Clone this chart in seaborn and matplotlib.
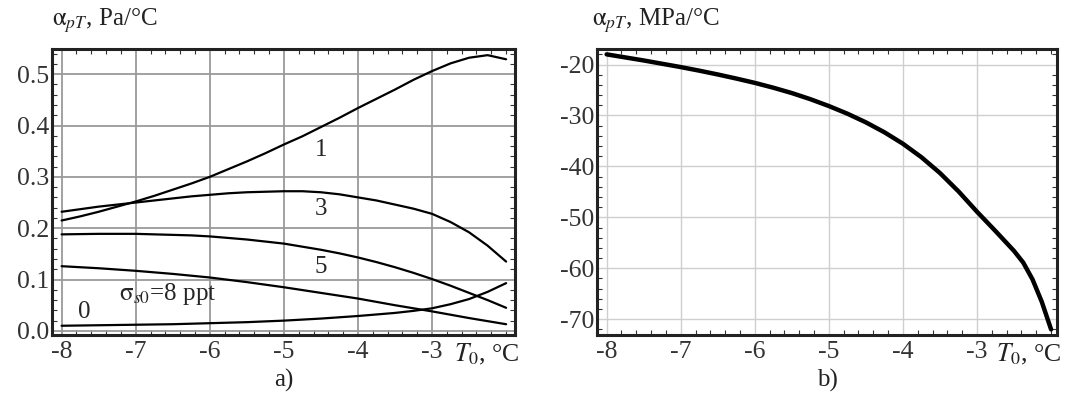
import matplotlib
matplotlib.use("Agg")
import matplotlib.pyplot as plt
import seaborn as sns
from matplotlib.ticker import MultipleLocator, AutoMinorLocator, FormatStrFormatter

# temperature grid (deg C), step 0.25 from -8 to -2
t0 = [-8.0, -7.75, -7.5, -7.25, -7.0, -6.75, -6.5, -6.25, -6.0, -5.75, -5.5, -5.25, -5.0,
      -4.75, -4.5, -4.25, -4.0, -3.75, -3.5, -3.25, -3.0, -2.75, -2.5, -2.25, -2.0]

# panel a), alpha_pT in Pa/degC for several salinities (ppt)
a_s1 = [0.215, 0.223, 0.232, 0.242, 0.252, 0.263, 0.275, 0.287, 0.300, 0.315, 0.330, 0.346, 0.363,
        0.379, 0.397, 0.415, 0.434, 0.452, 0.470, 0.489, 0.506, 0.521, 0.532, 0.537, 0.529]
a_s3 = [0.232, 0.237, 0.242, 0.246, 0.250, 0.254, 0.258, 0.262, 0.265, 0.268, 0.270, 0.271, 0.272,
        0.272, 0.270, 0.266, 0.260, 0.254, 0.246, 0.238, 0.228, 0.212, 0.192, 0.166, 0.135]
a_s5 = [0.188, 0.1885, 0.189, 0.189, 0.189, 0.188, 0.187, 0.186, 0.184, 0.181, 0.178, 0.174, 0.170,
        0.164, 0.158, 0.151, 0.143, 0.134, 0.124, 0.113, 0.101, 0.088, 0.074, 0.060, 0.045]
a_s8 = [0.126, 0.124, 0.122, 0.1195, 0.117, 0.114, 0.111, 0.1075, 0.104, 0.0995, 0.095, 0.090, 0.085,
        0.0795, 0.074, 0.0685, 0.063, 0.0565, 0.050, 0.044, 0.038, 0.0315, 0.025, 0.019, 0.013]
a_s0 = [0.010, 0.0105, 0.011, 0.0115, 0.012, 0.0125, 0.013, 0.014, 0.015, 0.016, 0.017, 0.0185, 0.020,
        0.022, 0.024, 0.0265, 0.029, 0.032, 0.035, 0.039, 0.044, 0.052, 0.062, 0.076, 0.093]

# panel b), alpha_pT in MPa/degC
t0_b = [-8.0, -7.75, -7.5, -7.25, -7.0, -6.75, -6.5, -6.25, -6.0, -5.75, -5.5, -5.25, -5.0,
        -4.75, -4.5, -4.25, -4.0, -3.75, -3.5, -3.25, -3.0, -2.75, -2.5, -2.375, -2.25, -2.125, -2.0]
b_vals = [-18.0, -18.6, -19.2, -19.85, -20.5, -21.2, -21.95, -22.75, -23.6, -24.55, -25.6, -26.8, -28.15,
          -29.65, -31.35, -33.3, -35.55, -38.2, -41.3, -44.9, -48.9, -52.7, -56.6, -58.9, -62.2, -66.6, -72.0]

sns.set_theme(style="ticks")
plt.rcParams["font.family"] = ["Liberation Serif", "DejaVu Serif"]
plt.rcParams["mathtext.fontset"] = "stix"
plt.rcParams["axes.unicode_minus"] = False

fig = plt.figure(figsize=(10.69, 3.98), dpi=100)
ax1 = fig.add_axes([52 / 1069, 63 / 398, 463 / 1069, 286 / 398])
ax2 = fig.add_axes([597 / 1069, 63 / 398, 460 / 1069, 286 / 398])

for series in [a_s1, a_s3, a_s5, a_s8, a_s0]:
    sns.lineplot(x=t0, y=series, ax=ax1, color="black", linewidth=1.6)
sns.lineplot(x=t0_b, y=b_vals, ax=ax2, color="black", linewidth=3.2)

ax1.set_xlim(-8.13, -1.88)
ax1.set_ylim(-0.008, 0.549)
ax2.set_xlim(-8.13, -1.92)
ax2.set_ylim(-73.1, -16.95)

ax1.yaxis.set_major_locator(MultipleLocator(0.1))
ax1.yaxis.set_major_formatter(FormatStrFormatter("%.1f"))
ax2.yaxis.set_major_locator(MultipleLocator(10))
for ax, gcol, glw in [(ax1, "#9a9a9a", 1.3), (ax2, "#cfcfcf", 1.0)]:
    ax.xaxis.set_major_locator(MultipleLocator(1))
    ax.xaxis.set_minor_locator(AutoMinorLocator(5))
    ax.yaxis.set_minor_locator(AutoMinorLocator(5))
    ax.grid(True, which="major", color=gcol, linewidth=glw)
    ax.set_axisbelow(True)
    ax.tick_params(which="both", direction="in", top=True, right=True, colors="#333333",
                   labelsize=18.5, labelcolor="#333333")
    ax.tick_params(which="major", length=0, pad=4)
    ax.tick_params(which="minor", length=3.5, width=0.8)
    ax.tick_params(axis="y", which="major", pad=2)
    for sp in ax.spines.values():
        sp.set_linewidth(2.2)
        sp.set_color("#222222")
    ax.set_xlabel("")
    ax.set_ylabel("")

ax1.set_xticks([-8, -7, -6, -5, -4, -3])
ax2.set_xticks([-8, -7, -6, -5, -4, -3])

# axis titles
ax1.text(0.0, 1.05, r"$\mathrm{\alpha}_{\mathit{pT}}$, Pa/°C", transform=ax1.transAxes,
         fontsize=18, color="#222222", ha="left", va="bottom")
ax2.text(-0.01, 1.05, r"$\mathrm{\alpha}_{\mathit{pT}}$, MPa/°C", transform=ax2.transAxes,
         fontsize=18, color="#222222", ha="left", va="bottom")
for ax in [ax1, ax2]:
    ax.text(1.01, -0.025, r"$\mathit{T}_0$, °C", transform=ax.transAxes,
            fontsize=18.5, color="#222222", ha="right", va="top")

ax1.text(0.5, -0.16, "a)", transform=ax1.transAxes, fontsize=18, ha="center", va="center", color="#222222")
ax2.text(0.5, -0.16, "b)", transform=ax2.transAxes, fontsize=18, ha="center", va="center", color="#222222")

# curve labels
ax1.text(-4.5, 0.352, "1", fontsize=18, ha="center", va="center")
ax1.text(-4.5, 0.238, "3", fontsize=18, ha="center", va="center")
ax1.text(-4.5, 0.124, "5", fontsize=18, ha="center", va="center")
ax1.text(-7.7, 0.037, "0", fontsize=18, ha="center", va="center")
ax1.text(-7.22, 0.072, r"$\mathrm{\sigma}_{\mathit{s0}}$=8 ppt", fontsize=18, ha="left", va="center")

fig.savefig("out.png", dpi=100)
